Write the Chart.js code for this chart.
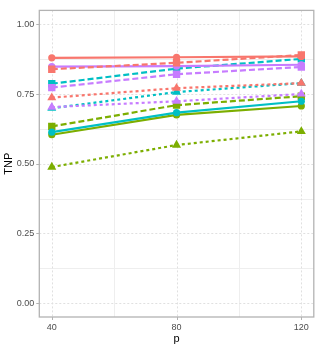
<!DOCTYPE html>
<html><head><meta charset="utf-8">
<script src="https://cdn.jsdelivr.net/npm/chart.js@4/dist/chart.umd.min.js"></script>
<style>html,body{margin:0;padding:0;background:#fff}#wrap{width:319px;height:348px}</style>
</head><body><div id="wrap"><canvas id="c" width="319" height="348"></canvas></div>
<script>
const pValues = [40, 80, 120];
const xTicks = [40, 80, 120];
const yTicks = [0, 0.25, 0.5, 0.75, 1.0];
const yTickLabels = ["0.00", "0.25", "0.50", "0.75", "1.00"];
const xMinor = [60, 100];
const yMinor = [0.125, 0.375, 0.625, 0.875];

// solid lines, circles
const redSolid    = [0.880, 0.882, 0.885];
const purpleSolid = [0.848, 0.850, 0.855];
const cyanSolid   = [0.613, 0.683, 0.724];
const greenSolid  = [0.604, 0.675, 0.707];
// dashed lines, squares
const redDashed    = [0.839, 0.862, 0.890];
const cyanDashed   = [0.787, 0.841, 0.876];
const purpleDashed = [0.773, 0.821, 0.847];
const greenDashed  = [0.634, 0.710, 0.742];
// dotted lines, triangles
const redDotted    = [0.737, 0.771, 0.789];
const cyanDotted   = [0.699, 0.757, 0.789];
const purpleDotted = [0.703, 0.724, 0.750];
const greenDotted  = [0.488, 0.567, 0.616];

const RED = '#F8766D', GREEN = '#7CAE00', CYAN = '#00BFC4', PURPLE = '#C77CFF';
const styles = {
  solid:  {dash: [], point: 'circle', r: 3.6},
  dashed: {dash: [6, 3], point: 'rect', r: 5.2},
  dotted: {dash: [3, 3], point: 'triangle', r: 5.2}
};
function ds(vals, color, kind) {
  const s = styles[kind];
  return {
    data: pValues.map((x, i) => ({x: x, y: vals[i]})),
    borderColor: color, backgroundColor: color,
    borderWidth: 2.2, borderDash: s.dash,
    pointStyle: s.point, pointRadius: s.r, pointHoverRadius: s.r,
    pointBorderWidth: 0, fill: false, tension: 0
  };
}
const datasets = [
  ds(redSolid, RED, 'solid'), ds(redDashed, RED, 'dashed'), ds(redDotted, RED, 'dotted'),
  ds(purpleSolid, PURPLE, 'solid'), ds(purpleDashed, PURPLE, 'dashed'), ds(purpleDotted, PURPLE, 'dotted'),
  ds(cyanSolid, CYAN, 'solid'), ds(cyanDashed, CYAN, 'dashed'), ds(cyanDotted, CYAN, 'dotted'),
  ds(greenSolid, GREEN, 'solid'), ds(greenDashed, GREEN, 'dashed'), ds(greenDotted, GREEN, 'dotted')
];

const panelPlugin = {
  id: 'panel',
  beforeDatasetsDraw(chart) {
    const {ctx, chartArea: a, scales: {x, y}} = chart;
    ctx.save();
    ctx.lineWidth = 1;
    ctx.strokeStyle = '#EEEEEE';
    ctx.setLineDash([]);
    xMinor.forEach(v => { const px = Math.round(x.getPixelForValue(v)) + 0.5; ctx.beginPath(); ctx.moveTo(px, a.top); ctx.lineTo(px, a.bottom); ctx.stroke(); });
    yMinor.forEach(v => { const py = Math.round(y.getPixelForValue(v)) + 0.5; ctx.beginPath(); ctx.moveTo(a.left, py); ctx.lineTo(a.right, py); ctx.stroke(); });
    ctx.strokeStyle = '#E0E0E0';
    ctx.setLineDash([2, 2]);
    xTicks.forEach(v => { const px = Math.round(x.getPixelForValue(v)) + 0.5; ctx.beginPath(); ctx.moveTo(px, a.top); ctx.lineTo(px, a.bottom); ctx.stroke(); });
    yTicks.forEach(v => { const py = Math.round(y.getPixelForValue(v)) + 0.5; ctx.beginPath(); ctx.moveTo(a.left, py); ctx.lineTo(a.right, py); ctx.stroke(); });
    ctx.restore();
  },
  afterDraw(chart) {
    const {ctx, chartArea: a, scales: {x, y}} = chart;
    ctx.save();
    ctx.strokeStyle = '#B3B3B3';
    ctx.lineWidth = 1.3;
    ctx.setLineDash([]);
    ctx.strokeRect(a.left, a.top, a.right - a.left, a.bottom - a.top);
    ctx.lineWidth = 1;
    xTicks.forEach(v => { const px = Math.round(x.getPixelForValue(v)) + 0.5; ctx.beginPath(); ctx.moveTo(px, a.bottom); ctx.lineTo(px, a.bottom + 3); ctx.stroke(); });
    yTicks.forEach(v => { const py = Math.round(y.getPixelForValue(v)) + 0.5; ctx.beginPath(); ctx.moveTo(a.left, py); ctx.lineTo(a.left - 3, py); ctx.stroke(); });
    ctx.restore();
  }
};

new Chart(document.getElementById('c'), {
  type: 'line',
  data: {datasets: datasets},
  plugins: [panelPlugin],
  options: {
    responsive: false, animation: false, devicePixelRatio: 1,
    layout: {padding: {top: 4, right: 5, left: 0, bottom: 0}},
    plugins: {legend: {display: false}, tooltip: {enabled: false}},
    scales: {
      x: {
        type: 'linear', min: 36, max: 124,
        afterBuildTicks: s => { s.ticks = xTicks.map(v => ({value: v})); },
        afterFit: s => { s.height = 31; },
        grid: {display: false, drawTicks: false},
        border: {display: false},
        ticks: {color: '#4D4D4D', font: {family: 'Liberation Sans', size: 9}, padding: 5, maxRotation: 0,
                callback: v => String(v)},
        title: {display: true, text: 'p', color: '#000', font: {family: 'Liberation Sans', size: 11}, padding: {top: 0, bottom: 2}}
      },
      y: {
        type: 'linear', min: -0.05, max: 1.05,
        afterBuildTicks: s => { s.ticks = yTicks.map(v => ({value: v})); },
        afterFit: s => { s.width = 39.3; },
        grid: {display: false, drawTicks: false},
        border: {display: false},
        ticks: {color: '#4D4D4D', font: {family: 'Liberation Sans', size: 9}, padding: 5,
                callback: (v) => { const i = yTicks.indexOf(v); return i >= 0 ? yTickLabels[i] : ''; }},
        title: {display: true, text: 'TNP', color: '#000', font: {family: 'Liberation Sans', size: 11}, padding: {top: 2, bottom: 0}}
      }
    }
  }
});
</script></body></html>
